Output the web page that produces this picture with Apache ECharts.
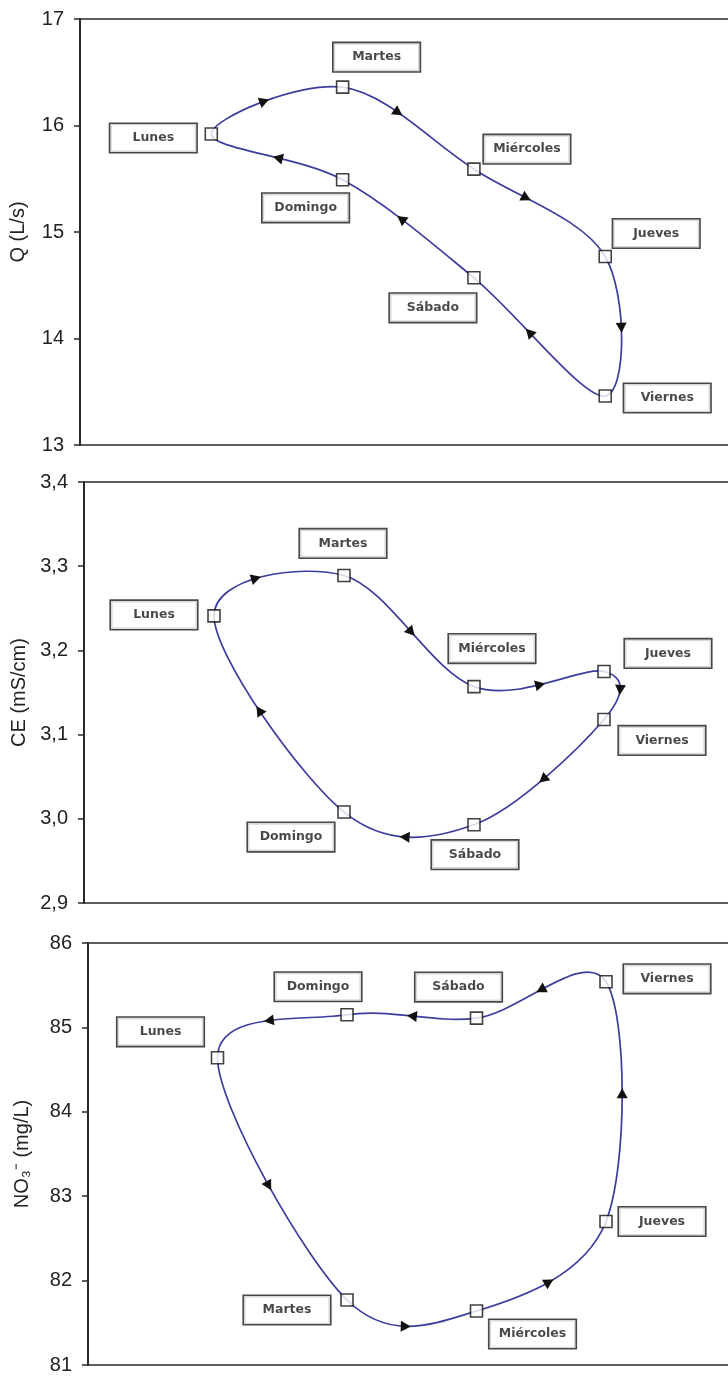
<!DOCTYPE html>
<html><head><meta charset="utf-8">
<script src="https://cdn.jsdelivr.net/npm/echarts@6/dist/echarts.min.js"></script>
<style>html,body{margin:0;padding:0;background:#fff}#c{width:728px;height:1378px}</style>
</head><body><div id="c"></div>
<script>
// ---- data ----
const days = ['Lunes', 'Martes', 'Miércoles', 'Jueves', 'Viernes', 'Sábado', 'Domingo'];
const dayX = [1, 2, 3, 4, 4, 3, 2];

const qValues   = [15.92, 16.36, 15.59, 14.77, 13.46, 14.57, 15.49];
const ceValues  = [3.241, 3.289, 3.157, 3.175, 3.118, 2.993, 3.008];
const no3Values = [84.64, 81.77, 81.64, 82.70, 85.54, 85.11, 85.15];

const yTicksQ   = [13, 14, 15, 16, 17];
const yTicksCE  = [2.9, 3.0, 3.1, 3.2, 3.3, 3.4];
const yTicksNO3 = [81, 82, 83, 84, 85, 86];

// direction arrows, one per segment day[k] -> day[k+1] (approximate positions)
const arrowXQ   = [1.40, 2.42, 3.39, 4.09, 3.41, 2.44, 1.51];
const arrowYQ   = [16.23, 16.12, 15.31, 14.10, 14.04, 15.11, 15.69];
const arrowXCE  = [1.32, 2.51, 3.51, 4.10, 3.52, 2.47, 1.34];
const arrowYCE  = [3.285, 3.221, 3.158, 3.154, 3.049, 2.981, 3.128];
const arrowXNO3 = [1.39, 2.45, 3.55, 4.11, 3.50, 2.50, 1.40];
const arrowYNO3 = [83.12, 81.47, 82.00, 84.22, 85.45, 85.09, 85.11];

const axisNames = ['Q (L/s)', 'CE (mS/cm)', 'NO\u2083\u207B (mg/L)'];

// ---- layout (positions / styles) ----
const layout = [
  { grid: { left: 79, top: 19, right: 0, height: 426 }, xMax: 4.935, nameGap: 52, dec: false,
    offsets: [[-58, 4], [34, -30], [53, -20], [51, -23], [62, 2], [-41, 30], [-37, 28]] },
  { grid: { left: 84, top: 482, right: 0, height: 421 }, xMax: 4.954, nameGap: 54, dec: true,
    offsets: [[-60, -1], [-1, -32], [18, -38], [64, -18], [58, 21], [1, 30], [-53, 25]] },
  { grid: { left: 88, top: 943, right: 0, height: 422 }, xMax: 4.942, nameGap: 56, dec: false,
    offsets: [[-57, -26], [-60, 10], [56, 23], [56, 0], [61, -3], [-18, -31], [-29, -28]] }
];

const panels = [
  { values: qValues, ticks: yTicksQ, ax: arrowXQ, ay: arrowYQ },
  { values: ceValues, ticks: yTicksCE, ax: arrowXCE, ay: arrowYCE },
  { values: no3Values, ticks: yTicksNO3, ax: arrowXNO3, ay: arrowYNO3 }
];

const LINE = '#3d3d9c';
const AX = '#2a2a2a';
const chart = echarts.init(document.getElementById('c'), null, { renderer: 'canvas' });

function bez(p0, c1, c2, p1, t) {
  const u = 1 - t;
  return [
    u*u*u*p0[0] + 3*u*u*t*c1[0] + 3*u*t*t*c2[0] + t*t*t*p1[0],
    u*u*u*p0[1] + 3*u*u*t*c1[1] + 3*u*t*t*c2[1] + t*t*t*p1[1]
  ];
}
function bezD(p0, c1, c2, p1, t) {
  const u = 1 - t;
  return [
    3*u*u*(c1[0]-p0[0]) + 6*u*t*(c2[0]-c1[0]) + 3*t*t*(p1[0]-c2[0]),
    3*u*u*(c1[1]-p0[1]) + 6*u*t*(c2[1]-c1[1]) + 3*t*t*(p1[1]-c2[1])
  ];
}

function makeRender(p) {
  const n = days.length;
  return function (params, api) {
    const k = params.dataIndex;
    const P = j => { const m = ((j % n) + n) % n; return api.coord([dayX[m], p.values[m]]); };
    const a0 = P(k - 1), a1 = P(k), a2 = P(k + 1), a3 = P(k + 2);
    const c1 = [a1[0] + (a2[0] - a0[0]) / 6, a1[1] + (a2[1] - a0[1]) / 6];
    const c2 = [a2[0] - (a3[0] - a1[0]) / 6, a2[1] - (a3[1] - a1[1]) / 6];
    const target = api.coord([p.ax[k], p.ay[k]]);
    let best = 0.5, bd = Infinity;
    for (let t = 0; t <= 1.0001; t += 0.005) {
      const q = bez(a1, c1, c2, a2, t);
      const d = (q[0] - target[0]) ** 2 + (q[1] - target[1]) ** 2;
      if (d < bd) { bd = d; best = t; }
    }
    const pos = bez(a1, c1, c2, a2, best);
    const dv = bezD(a1, c1, c2, a2, best);
    const len = Math.hypot(dv[0], dv[1]) || 1;
    const ux = dv[0] / len, uy = dv[1] / len, px = -uy, py = ux;
    const tip = [pos[0] + ux * 5.5, pos[1] + uy * 5.5];
    const b1 = [pos[0] - ux * 4.5 + px * 5.5, pos[1] - uy * 4.5 + py * 5.5];
    const b2 = [pos[0] - ux * 4.5 - px * 5.5, pos[1] - uy * 4.5 - py * 5.5];
    return {
      type: 'group',
      children: [
        { type: 'bezierCurve', shape: { x1: a1[0], y1: a1[1], cpx1: c1[0], cpy1: c1[1], cpx2: c2[0], cpy2: c2[1], x2: a2[0], y2: a2[1] },
          style: { stroke: LINE, lineWidth: 1.7, fill: null }, z2: 1 },
        { type: 'polygon', shape: { points: [tip, b1, b2] }, style: { fill: '#111', stroke: null }, z2: 2 }
      ]
    };
  };
}

const grids = [], xAxes = [], yAxes = [], series = [];
panels.forEach((p, i) => {
  const L = layout[i];
  grids.push(Object.assign({ show: false }, L.grid));
  const xBase = { type: 'value', gridIndex: i, min: 0, max: L.xMax,
    axisLine: { show: true, onZero: false, lineStyle: { color: AX, width: 1.6 } },
    axisTick: { show: false }, axisLabel: { show: false }, splitLine: { show: false } };
  xAxes.push(Object.assign({ position: 'bottom' }, xBase));
  xAxes.push(Object.assign({ position: 'top' }, xBase));
  const iv = Math.round((p.ticks[1] - p.ticks[0]) * 1000) / 1000;
  yAxes.push({
    type: 'value', gridIndex: i, min: p.ticks[0], max: p.ticks[p.ticks.length - 1], interval: iv,
    name: axisNames[i], nameLocation: 'middle', nameGap: L.nameGap,
    nameTextStyle: { fontFamily: 'Liberation Sans, Arial, sans-serif', fontSize: 20, color: '#222' },
    axisLine: { show: true, onZero: false, lineStyle: { color: AX, width: 2 } },
    axisTick: { show: true, length: 6, lineStyle: { color: AX, width: 1.5 } },
    axisLabel: {
      margin: 16, fontFamily: 'Liberation Sans, Arial, sans-serif', fontSize: 20, color: '#222',
      formatter: v => L.dec ? v.toFixed(1).replace('.', ',') : String(Math.round(v))
    },
    splitLine: { show: false }
  });
  const pts = days.map((d, k) => [dayX[k], p.values[k]]);
  series.push({
    type: 'custom', xAxisIndex: 2 * i, yAxisIndex: i, z: 2, animation: false, silent: true,
    renderItem: makeRender(p), data: pts
  });
  series.push({
    type: 'scatter', xAxisIndex: 2 * i, yAxisIndex: i, symbol: 'rect', symbolSize: 12, z: 5, animation: false,
    itemStyle: { color: '#fff', borderColor: '#111', borderWidth: 1.6 },
    emphasis: { disabled: true },
    label: {
      show: true, position: 'inside', formatter: q => q.name,
      fontFamily: 'DejaVu Sans, sans-serif', fontSize: 12.5, fontWeight: 'bold', color: '#1a1a1a',
      backgroundColor: '#fff', borderColor: '#1a1a1a', borderWidth: 1.6,
      width: 80, height: 20, lineHeight: 20, padding: [4, 3], align: 'center', verticalAlign: 'middle'
    },
    data: days.map((d, k) => ({ name: d, value: pts[k], label: { offset: L.offsets[k] } }))
  });
});

chart.setOption({ animation: false, grid: grids, xAxis: xAxes, yAxis: yAxes, series: series });
</script></body></html>
